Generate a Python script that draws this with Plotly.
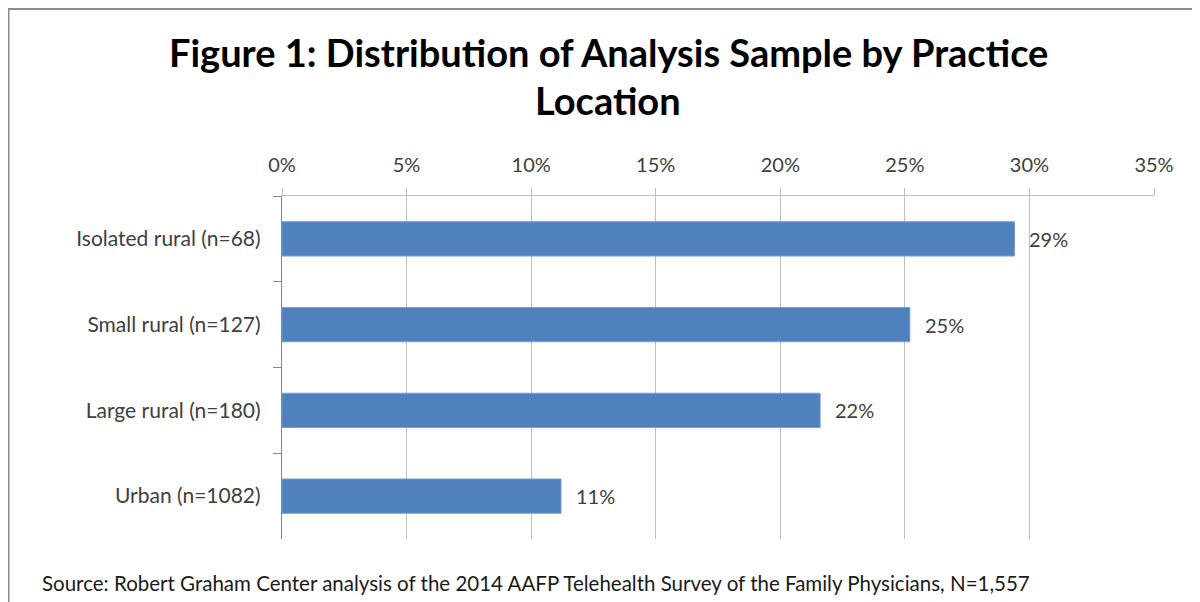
import plotly.graph_objects as go

categories = ["Isolated rural (n=68)", "Small rural (n=127)", "Large rural (n=180)", "Urban (n=1082)"]
values = [29.4, 25.2, 21.6, 11.2]
value_labels = ["29%", "25%", "22%", "11%"]
x_ticks = [0, 5, 10, 15, 20, 25, 30, 35]
x_tick_labels = ["0%", "5%", "10%", "15%", "20%", "25%", "30%", "35%"]
title_lines = ["Figure 1: Distribution of Analysis Sample by Practice", "Location"]
source_text = "Source: Robert Graham Center analysis of the 2014 AAFP Telehealth Survey of the Family Physicians, N=1,557"

FONT = "Lato"
OFF = 8  # page body margin
W, H = 1200 - OFF, 602 - OFF
# plot area in reference (page) pixels
PL, PR, PT, PB = 282, 1154, 196, 539
L, R, T, B = PL - OFF, (1200 - PR), PT - OFF, (602 - PB)
pw, ph = W - L - R, H - T - B

def px_x(px):
    return (px - OFF - L) / pw

def px_y(py):
    return (H - B - (py - OFF)) / ph

fig = go.Figure()
fig.add_trace(go.Bar(
    x=values, y=categories, orientation="h",
    marker=dict(color="#4F81BD", line=dict(color="#7A9FCF", width=1)),
    width=0.4, hoverinfo="skip",
))

for v, c, t in zip(values, categories, value_labels):
    fig.add_annotation(x=v, y=c, xref="x", yref="y", text=t, showarrow=False,
                       xanchor="left", yanchor="middle", xshift=13,
                       font=dict(family=FONT, size=20, color="#404040"))

fig.update_layout(
    width=W, height=H,
    margin=dict(l=L, r=R, t=T, b=B),
    paper_bgcolor="white", plot_bgcolor="white",
    showlegend=False,
    xaxis=dict(side="top", range=[0, 35], tickvals=x_ticks, ticktext=x_tick_labels,
               showgrid=True, gridcolor="#BFBFBF", gridwidth=1.3,
               showline=True, linecolor="#BFBFBF", linewidth=1.3,
               ticks="outside", ticklen=7, tickcolor="#BFBFBF",
               ticklabelstandoff=8,
               zeroline=False,
               tickfont=dict(family=FONT, size=20, color="#404040")),
    yaxis=dict(categoryorder="array", categoryarray=categories, autorange="reversed",
               showline=True, linecolor="#868686", linewidth=1.3,
               ticks="outside", ticklen=8, tickcolor="#868686", tickson="boundaries",
               ticklabelstandoff=16,
               showgrid=False, zeroline=False,
               tickfont=dict(family=FONT, size=21, color="#404040")),
)

# outer chart frame (partially cropped in the reference)
fig.add_shape(type="rect", xref="paper", yref="paper",
              x0=px_x(8.5), x1=px_x(1215), y0=px_y(620), y1=px_y(9),
              line=dict(color="#8C8C8C", width=2), fillcolor="rgba(0,0,0,0)", layer="below")

# title lines
for txt, cy in zip(title_lines, [52, 100]):
    fig.add_annotation(xref="paper", yref="paper", x=px_x(608), y=px_y(cy),
                       text="<b>" + txt + "</b>", showarrow=False,
                       xanchor="center", yanchor="middle",
                       font=dict(family=FONT, size=38, color="#000000"))

fig.add_annotation(xref="paper", yref="paper", x=px_x(40), y=px_y(583),
                   text=source_text,
                   showarrow=False, xanchor="left", yanchor="middle",
                   font=dict(family=FONT, size=20.5, color="#1a1a1a"))

fig.write_html("out.html")
